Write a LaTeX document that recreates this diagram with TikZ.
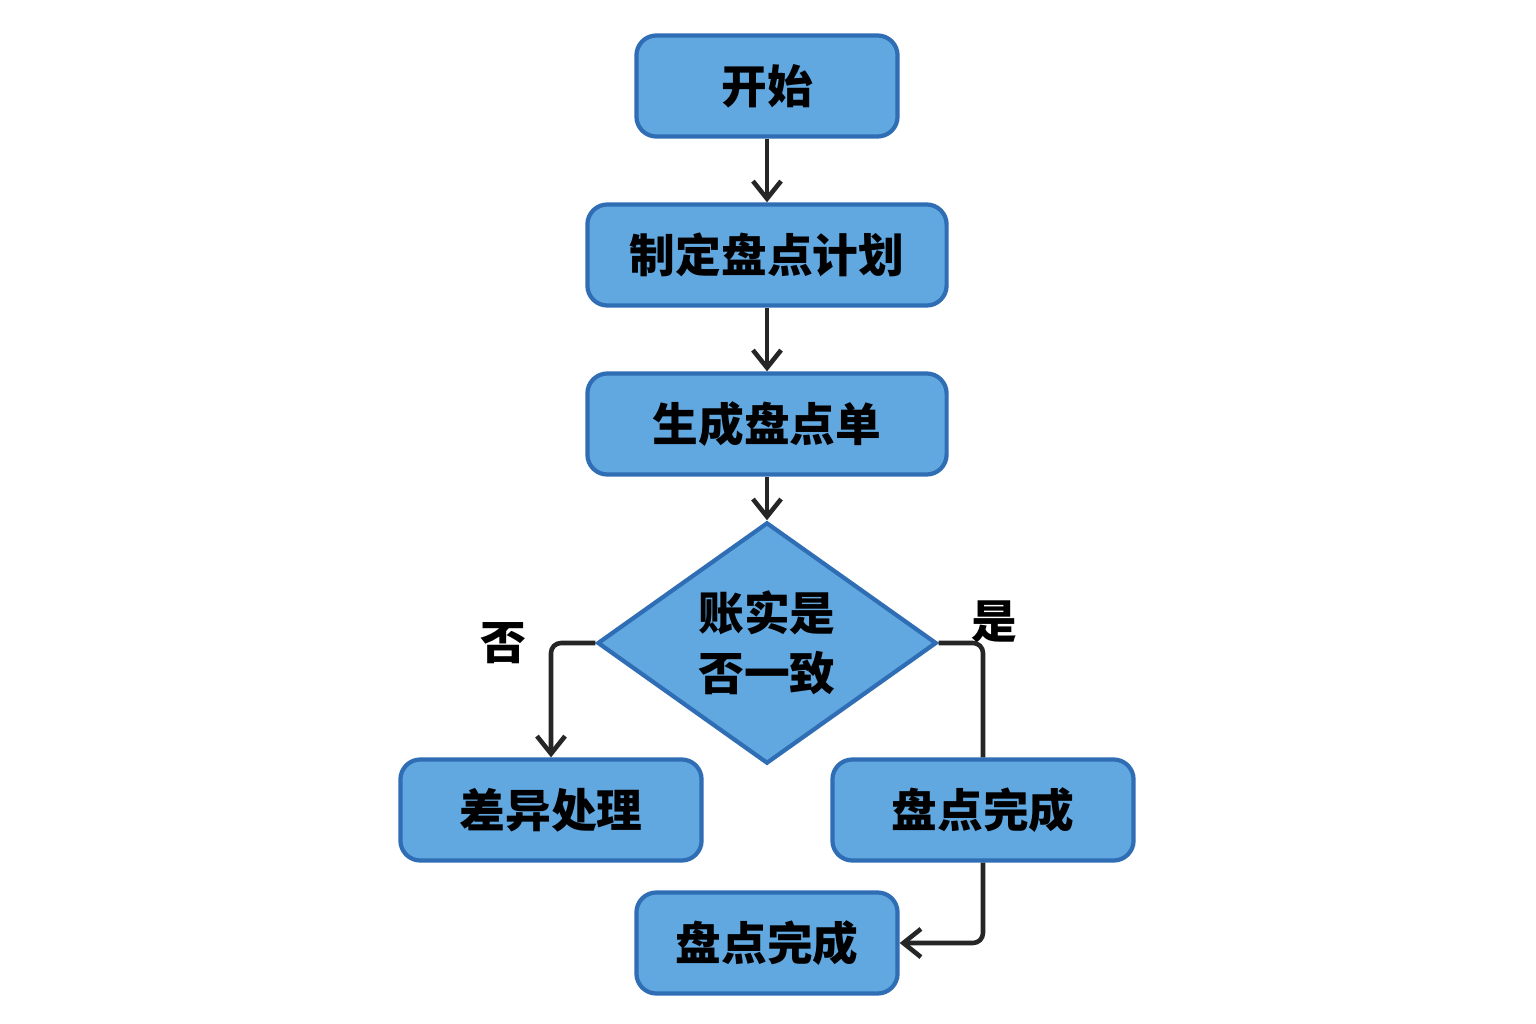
\documentclass[tikz,border=0pt]{standalone}
\usepackage{fontspec}
\newfontfamily\cjk{Noto Sans CJK SC}
\usetikzlibrary{shapes.geometric,arrows.meta}
\definecolor{boxfill}{HTML}{62A8E0}
\definecolor{boxline}{HTML}{2F6DB5}
\begin{document}
\begin{tikzpicture}[
        x = 0.01cm, y = -0.01cm,
        box/.style = {
                draw = boxline,
                fill = boxfill,
                line width = 1.2pt,
                rounded corners = 0.2cm,
                minimum width = #1,
                minimum height = 1.01cm,
                font = \cjk\bfseries\fontsize{13}{15}\selectfont
            },
            box/.default = 2.61cm,
        arr/.style = {-{Straight Barb[length=5pt,width=8pt]}, line width = 1.3pt, draw = black!85},
        con/.style = {line width = 1.3pt, draw = black!85, rounded corners = 0.1cm}
        ]
        \useasboundingbox (0,0) rectangle (1536,1024);
        \node[box] (start) at (767,86) {开始};
        \node[box=3.59cm] (plan) at (767,255) {制定盘点计划};
        \node[box=3.59cm] (sheet) at (767,424) {生成盘点单};
        \node[diamond, draw = boxline, fill = boxfill, line width = 1.2pt,
              minimum width = 3.39cm, minimum height = 2cm, inner sep = 0pt,
              align = center, font = \cjk\bfseries\fontsize{13}{17}\selectfont] (check) at (767,643) {账实是\\否一致};
        \node[box=3.01cm] (diff) at (551,810) {差异处理};
        \node[box=3.01cm] (okr) at (983,810) {盘点完成};
        \node[box] (done) at (767,943) {盘点完成};
        \node[font = \cjk\bfseries\fontsize{13}{15}\selectfont] (no) at (503,643) {否};
        \node[font = \cjk\bfseries\fontsize{13}{15}\selectfont] (yes) at (994,622) {是};

        \draw[arr] (start) -- (plan);
        \draw[arr] (plan) -- (sheet);
        \draw[arr] (sheet) -- (check);
        \draw[arr, rounded corners = 0.1cm] (check.west) -| (diff.north);
        \draw[con] (check.east) -| (okr.north);
        \draw[arr, rounded corners = 0.1cm] (okr.south) |- (done.east);
    \end{tikzpicture}
\end{document}
